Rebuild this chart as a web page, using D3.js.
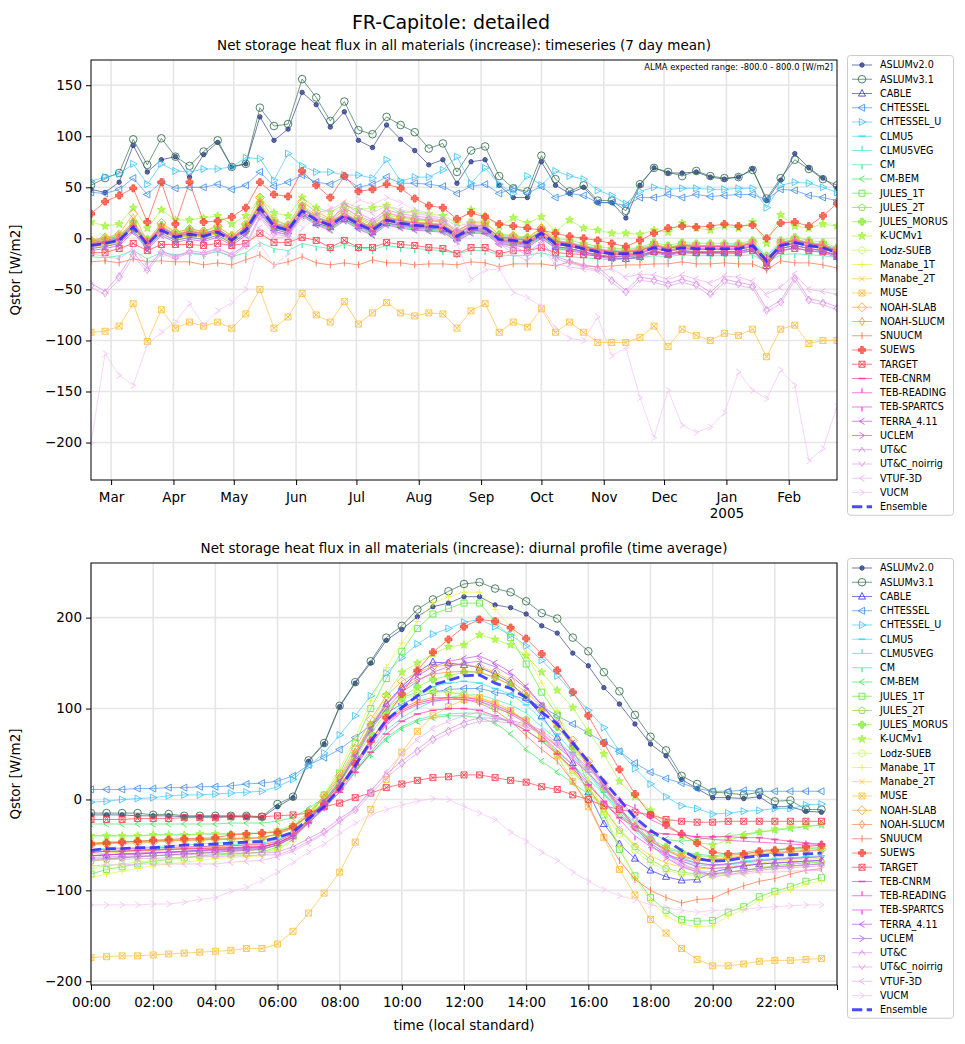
<!DOCTYPE html>
<html>
<head>
<meta charset="utf-8">
<script src="https://cdn.jsdelivr.net/npm/d3@7"></script>
<style>
body { margin: 0; background: #fff; }
svg { font-family: "DejaVu Sans", sans-serif; }
</style>
</head>
<body>
<script>
// model names, marker styles and colours, in plotting order
const modelNames = ["ASLUMv2.0","ASLUMv3.1","CABLE","CHTESSEL","CHTESSEL_U","CLMU5","CLMU5VEG","CM","CM-BEM",
  "JULES_1T","JULES_2T","JULES_MORUS","K-UCMv1","Lodz-SUEB","Manabe_1T","Manabe_2T","MUSE","NOAH-SLAB",
  "NOAH-SLUCM","SNUUCM","SUEWS","TARGET","TEB-CNRM","TEB-READING","TEB-SPARTCS","TERRA_4.11","UCLEM",
  "UT&C","UT&C_noirrig","VTUF-3D","VUCM","Ensemble"];
const markerTypes = ["dot","o","^","<",">","_","tickup","tickdown","caretleft","s","p","P","*","h","+","x","X","D",
  "d","|","P","X","_","tickup","tickdown","caretleft","caretright","caretup","caretdown","caretleft","caretright","none"];
const lineColors = ["#2d3d8a","#2f6e4a","#3a3aef","#3d8ef0","#3ec3f7","#35dcee","#3de8c8","#3ce89a","#3ee858",
  "#5aea38","#7fdd3a","#8aee3f","#a3f53c","#c4fa5a","#e8f53a","#ffc830","#ffbf3c","#ffa030","#ff8a3a","#ff6a3a",
  "#ff4a3a","#ff3a4a","#ff3aa0","#ff3ad0","#ee3aee","#c04aee","#b060e0","#d488ea","#e49aea","#efa8ef","#f5c0f5","#2a2aff"];

// timeseries: weekly points starting 2004-02-20 (7 day means)
const tsStart = new Date(2004, 1, 20);
const tsWeeks = 54;
const tsYTicks = [-200, -150, -100, -50, 0, 50, 100, 150];

const ts_ASLUMv2_0 = [48,45,55,91,65,77,80,60,82,94,70,73,119,96,107,143,131,109, 124,96,89,111,97,86,72,77,54,75,77,52,40,40,75,52,44,50, 35,35,20,52,69,64,64,65,60,58,60,68,37,57,83,69,59,49];
const ts_ASLUMv3_1 = [52,59,64,97,72,98,80,71,85,96,70,73,128,110,112,156,138,115, 134,106,102,119,111,104,88,93,65,86,90,61,49,46,81,58,46,52, 37,37,27,53,69,65,61,66,61,59,60,67,39,59,77,68,58,52];
const ts_CABLE = [-4,-2,1,13,-5,10,3,5,4,7,0,9,29,10,7,24,15,11, 19,12,6,15,13,11,10,9,0,8,7,-3,-4,-6,3,-8,-10,-13, -17,-19,-20,-18,-13,-16,-13,-14,-14,-13,-13,-10,-27,-10,-7,-10,-12,-18];
const ts_CHTESSEL = [45,44,48,59,43,55,49,50,50,53,48,52,65,51,55,62,55,53, 60,50,53,60,54,54,53,51,44,51,53,44,49,44,51,40,44,42, 35,35,32,40,40,43,40,43,41,42,43,43,38,48,47,42,40,37];
const ts_CHTESSEL_U = [56,60,63,73,53,73,66,65,68,68,70,79,78,57,83,71,65,65, 62,62,59,77,56,60,60,67,80,54,69,53,44,61,52,66,61,58, 47,42,34,46,50,48,49,49,48,48,49,49,30,52,55,54,50,45];
const ts_CLMU5 = [-3,0,2,14,-2,11,4,8,5,9,1,11,32,15,12,30,21,16, 24,17,11,20,17,15,14,13,4,12,12,2,1,-1,8,-2,-4,-7, -10,-12,-11,-10,-6,-9,-6,-7,-7,-7,-6,-4,-18,-4,-1,-4,-6,-10];
const ts_CLMU5VEG = [-6,-4,-1,12,-5,9,2,5,3,7,-1,9,31,13,9,28,19,14, 23,15,9,19,16,14,13,12,3,11,11,0,-1,-3,6,-4,-6,-9, -12,-14,-14,-13,-8,-11,-8,-9,-9,-9,-9,-6,-20,-6,-3,-6,-8,-13];
const ts_CM = [-18,-19,-17,-12,-20,-14,-16,-15,-16,-13,-18,-14,-4,-10,-12,-5,-8,-10, -6,-9,-11,-7,-9,-10,-11,-12,-15,-12,-12,-16,-17,-17,-14,-18,-18,-19, -20,-21,-20,-19,-17,-18,-16,-17,-17,-17,-17,-16,-24,-16,-15,-16,-17,-19];
const ts_CM_BEM = [-10,-8,-5,8,-10,5,-2,1,-1,3,-5,5,26,9,5,23,14,9, 18,10,4,14,11,9,8,7,-2,6,6,-5,-6,-8,1,-9,-11,-14, -16,-18,-18,-17,-12,-15,-12,-13,-13,-13,-13,-10,-25,-10,-7,-10,-12,-17];
const ts_JULES_1T = [-5,-3,0,13,-4,10,3,6,4,8,0,10,33,14,10,29,20,15, 24,16,10,20,17,15,14,13,4,12,12,1,0,-2,7,-3,-5,-8, -11,-13,-13,-12,-7,-10,-7,-8,-8,-8,-8,-5,-20,-5,-2,-5,-7,-12];
const ts_JULES_2T = [-7,-5,-2,10,-7,7,0,3,1,5,-3,7,28,11,7,25,17,12, 21,13,7,17,14,12,11,10,1,9,9,-2,-3,-5,4,-6,-8,-11, -14,-16,-16,-15,-10,-13,-10,-11,-11,-11,-11,-8,-23,-8,-5,-8,-10,-15];
const ts_JULES_MORUS = [-2,0,3,16,-1,13,6,9,7,11,3,13,35,17,13,32,23,18, 27,19,13,23,20,18,17,16,7,15,15,4,3,1,10,0,-2,-5, -8,-10,-10,-9,-4,-7,-4,-5,-5,-5,-5,-2,-17,-2,1,-2,-4,-9];
const ts_K_UCMv1 = [16,12,14,30,10,28,18,18,20,22,14,22,40,25,22,40,30,26, 33,28,30,32,25,26,24,22,15,28,22,12,20,15,21,7,18,10, 8,5,5,4,8,6,15,10,8,12,10,16,-5,23,12,10,14,12];
const ts_Lodz_SUEB = [-4,-1,1,13,-4,10,4,6,4,8,1,11,31,14,10,28,20,15, 23,16,10,20,17,15,14,13,4,12,11,1,0,-2,7,-3,-5,-8, -11,-13,-13,-12,-7,-10,-7,-8,-8,-8,-8,-5,-21,-5,-2,-5,-7,-12];
const ts_Manabe_1T = [-8,-6,-3,12,-7,9,2,5,3,7,-2,9,32,13,9,29,19,14, 23,15,9,19,16,14,13,12,3,11,11,0,-1,-3,6,-4,-6,-9, -12,-14,-14,-13,-8,-11,-8,-9,-9,-9,-9,-6,-21,-6,-3,-6,-8,-13];
const ts_Manabe_2T = [-9,-7,-4,10,-8,7,0,3,1,5,-4,7,30,11,7,27,17,12, 21,13,7,17,14,12,11,10,1,9,9,-2,-3,-5,4,-6,-8,-11, -14,-16,-16,-15,-10,-13,-10,-11,-11,-11,-11,-8,-23,-8,-5,-8,-10,-15];
const ts_MUSE = [-92,-91,-86,-64,-101,-70,-88,-82,-86,-82,-88,-74,-50,-88,-77,-54,-75,-82, -62,-84,-73,-63,-73,-76,-73,-74,-88,-71,-64,-92,-82,-87,-69,-92,-82,-92, -102,-102,-102,-97,-86,-106,-89,-95,-100,-93,-95,-89,-116,-89,-85,-103,-100,-100];
const ts_NOAH_SLAB = [-2,1,4,24,-3,15,6,9,7,12,2,14,40,18,13,36,26,19, 30,21,14,25,21,19,18,17,6,16,16,3,2,0,10,-2,-5,-8, -11,-13,-12,-11,-6,-9,-6,-7,-7,-7,-7,-4,-28,-4,-1,-4,-6,-11];
const ts_NOAH_SLUCM = [-3,-1,2,16,-4,12,4,7,5,9,0,11,34,15,11,31,21,16, 25,17,11,21,18,16,15,14,5,13,13,1,0,-2,7,-3,-6,-9, -12,-14,-13,-12,-7,-10,-7,-8,-8,-8,-8,-5,-25,-5,-2,-5,-7,-12];
const ts_SNUUCM = [-23,-22,-24,-20,-23,-22,-23,-23,-26,-24,-26,-21,-16,-26,-23,-18,-24,-26, -24,-26,-21,-24,-24,-26,-25,-25,-26,-23,-24,-28,-25,-25,-25,-27,-23,-27, -28,-27,-26,-26,-25,-25,-23,-25,-25,-24,-25,-25,-31,-22,-24,-24,-26,-29];
const ts_SUEWS = [24,36,42,49,16,55,14,55,16,17,21,30,55,43,41,66,52,40, 61,46,48,53,49,39,32,30,19,25,21,14,12,10,8,5,2,0, -2,-5,-8,-2,5,10,12,11,12,14,12,13,0,15,16,12,22,34];
const ts_TARGET = [-14,-14,-10,-5,-12,-6,-6,-6,-7,-5,-7,-5,5,-4,-4,1,-2,-9, -2,-9,-9,-4,-6,-7,-9,-10,-15,-9,-9,-15,-12,-12,-9,-14,-15,-16, -17,-18,-17,-16,-13,-15,-13,-14,-14,-14,-14,-12,-24,-12,-10,-12,-13,-16];
const ts_TEB_CNRM = [-6,-4,-1,12,-5,9,2,5,3,7,-1,9,28,12,8,26,17,12, 21,13,7,17,14,12,11,10,1,9,9,-2,-3,-5,4,-6,-8,-11, -14,-16,-16,-15,-10,-13,-10,-11,-11,-11,-11,-8,-23,-8,-5,-8,-10,-15];
const ts_TEB_READING = [-5,-3,0,14,-4,11,3,7,4,9,0,11,32,14,10,29,20,15, 24,16,10,20,17,15,14,13,4,12,12,1,0,-2,7,-3,-5,-8, -11,-13,-13,-12,-7,-10,-7,-8,-8,-8,-8,-5,-20,-5,-2,-5,-7,-12];
const ts_TEB_SPARTCS = [-7,-5,-2,11,-6,8,1,4,2,6,-2,8,29,12,8,26,18,13, 22,14,8,18,15,13,12,11,2,10,10,-1,-2,-4,5,-5,-7,-10, -13,-15,-15,-14,-9,-12,-9,-10,-10,-10,-10,-7,-22,-7,-4,-7,-9,-14];
const ts_TERRA_4_11 = [-12,-10,-7,6,-11,3,-4,-1,-3,1,-7,3,25,7,3,22,13,8, 17,9,3,13,10,8,7,6,-3,5,5,-6,-7,-9,0,-10,-12,-15, -18,-20,-20,-19,-14,-17,-14,-15,-15,-15,-15,-12,-27,-12,-9,-12,-14,-19];
const ts_UCLEM = [-10,-8,-5,8,-9,5,-2,1,-1,3,-5,5,27,9,5,24,15,10, 19,11,5,15,12,10,9,8,-1,7,7,-4,-5,-7,2,-8,-10,-13, -16,-18,-18,-17,-12,-15,-12,-13,-13,-13,-13,-10,-25,-10,-7,-10,-12,-17];
const ts_UTC = [-44,-52,-36,-14,-30,-12,-18,-12,-14,-10,-16,-6,22,6,4,28,20,16, 34,25,18,28,24,22,20,18,8,14,10,-4,-8,-14,-4,-18,-22,-26, -28,-40,-51,-38,-40,-44,-40,-44,-53,-40,-43,-46,-69,-61,-38,-59,-62,-67];
const ts_UTC_noirrig = [-48,-55,-40,-18,-32,-15,-20,-14,-16,-12,-18,-8,20,4,2,25,18,14, 30,22,16,25,22,20,18,16,6,12,8,-6,-10,-16,-6,-20,-24,-28, -31,-43,-54,-41,-43,-47,-43,-47,-56,-43,-46,-49,-72,-64,-41,-62,-65,-70];
const ts_VTUF_3D = [-15,-18,-20,-10,-25,-15,-18,-14,-15,-10,-15,-8,10,0,2,20,25,28, 35,30,25,32,28,25,22,20,12,15,10,-5,-15,-22,-10,-25,-28,-30, -32,-30,-38,-35,-36,-40,-36,-40,-44,-37,-38,-42,-55,-48,-35,-50,-52,-55];
const ts_VUCM = [-201,-113,-134,-144,-104,-92,-82,-64,-85,-71,-63,-50,-5,-27,-15,10,20,30, 25,38,33,40,35,28,25,15,-5,-40,-31,-30,-53,-58,-67,-88,-98,-100, -77,-115,-107,-156,-195,-149,-183,-190,-185,-171,-131,-149,-157,-129,-144,-218,-206,-165];
const ts_Ensemble = [-7,-5,-2,11,-6,8,1,4,2,6,-2,8,30,12,8,27,18,13, 22,14,8,18,15,13,12,11,2,10,10,-1,-2,-4,5,-5,-7,-10, -13,-15,-15,-14,-9,-12,-9,-10,-10,-10,-10,-7,-22,-7,-4,-7,-9,-14];

// diurnal profile: half-hourly, 00:00 .. 23:30
const dpSteps = 48;
const dpXTicks = [0, 2, 4, 6, 8, 10, 12, 14, 16, 18, 20, 22, 24];
const dpYTicks = [-200, -100, 0, 100, 200];

const dp_ASLUMv2_0 = [-17,-17,-17,-18,-18,-18,-19,-19,-19,-19,-19,-20, -8,2,42,61,102,128,150,175,187,201,212,216, 223,223,214,211,204,191,183,161,147,123,105,83, 61,48,22,12,2,2,1,3,-8,-8,-13,-14];
const dp_ASLUMv3_1 = [-15,-15,-15,-15,-17,-16,-18,-18,-18,-18,-18,-19, -5,3,43,62,103,129,152,178,191,209,220,229, 237,239,232,228,218,205,199,178,163,140,119,93, 69,54,26,17,8,7,5,8,-2,-1,-11,-11];
const dp_CABLE = [-62,-61,-60,-60,-59,-58,-57,-56,-55,-54,-53,-52, -48,-40,-22,-4,18,50,80,105,124,140,151,150, 148,145,138,128,112,92,68,40,8,-27,-49,-65, -78,-85,-89,-88,-80,-76,-73,-71,-70,-69,-68,-67];
const dp_CHTESSEL = [11,11,11,12,12,13,13,14,14,15,17,18, 20,26,38,46,55,68,82,95,105,113,118,121, 122,122,118,115,110,102,92,83,73,63,53,40, 30,23,18,12,9,9,10,9,9,9,9,9];
const dp_CHTESSEL_U = [-3,-2,0,1,2,4,5,5,6,7,8,9, 14,22,37,51,71,92,114,139,156,171,182,188, 195,198,190,181,169,153,136,117,98,79,53,34, 17,3,-7,-10,-16,-15,-13,-12,-10,-10,-6,-5];
const dp_CLMU5 = [-58,-57,-56,-55,-55,-54,-53,-52,-51,-50,-49,-48, -44,-38,-22,-8,14,40,66,88,103,115,124,128, 130,128,122,116,104,88,72,52,30,8,-14,-32, -46,-56,-64,-70,-72,-71,-68,-66,-65,-64,-63,-62];
const dp_CLMU5VEG = [-55,-54,-53,-53,-52,-51,-50,-49,-48,-47,-46,-45, -42,-37,-24,-10,10,32,55,76,90,100,108,112, 115,115,110,104,95,80,66,48,28,6,-16,-35, -50,-62,-68,-72,-73,-72,-70,-68,-66,-65,-64,-63];
const dp_CM = [-40,-40,-40,-40,-39,-39,-39,-38,-38,-38,-37,-37, -35,-30,-18,-5,12,30,50,68,80,88,92,94, 95,95,90,85,76,65,52,38,22,6,-10,-26, -45,-55,-58,-60,-62,-60,-58,-56,-55,-54,-54,-53];
const dp_CM_BEM = [-27,-27,-27,-27,-27,-27,-27,-27,-27,-26,-26,-26, -24,-20,-10,2,16,32,50,66,78,86,90,92, 92,90,84,72,55,42,30,18,6,-6,-18,-28, -38,-44,-46,-44,-42,-40,-38,-36,-34,-32,-30,-28];
const dp_JULES_1T = [-82,-77,-74,-71,-68,-66,-64,-62,-61,-60,-59,-58, -52,-40,-20,5,29,62,100,133,163,188,204,210, 216,216,196,178,149,118,93,58,16,-17,-55,-84, -108,-122,-132,-134,-133,-124,-118,-107,-101,-96,-90,-86];
const dp_JULES_2T = [-68,-66,-64,-63,-62,-61,-60,-59,-58,-57,-56,-55, -50,-40,-22,-2,22,50,80,100,112,118,120,118, 115,108,100,95,88,70,50,32,12,-10,-34,-52, -66,-76,-80,-82,-82,-80,-78,-75,-73,-71,-70,-69];
const dp_JULES_MORUS = [-48,-47,-46,-46,-45,-45,-44,-44,-43,-43,-42,-42, -38,-32,-18,-2,18,44,72,96,112,124,132,136, 140,140,134,126,114,98,80,58,36,12,-12,-30, -44,-52,-58,-62,-63,-62,-60,-58,-56,-55,-54,-53];
const dp_K_UCMv1 = [-40,-40,-40,-40,-39,-39,-39,-38,-38,-38,-38,-37, -34,-28,-14,2,22,50,82,115,140,150,160,168, 170,181,176,170,158,140,120,101,75,50,20,3, -12,-25,-40,-47,-50,-45,-40,-36,-33,-31,-29,-28];
const dp_Lodz_SUEB = [-75,-73,-71,-69,-67,-65,-64,-63,-62,-61,-60,-59, -54,-44,-26,-5,20,50,78,98,110,116,118,118, 116,112,104,96,84,68,50,30,10,-14,-38,-56, -70,-78,-82,-84,-84,-82,-80,-78,-76,-74,-72,-70];
const dp_Manabe_1T = [-86,-82,-79,-76,-73,-71,-69,-67,-65,-64,-63,-62, -56,-44,-22,6,33,68,108,145,172,196,216,223, 228,228,209,190,161,128,98,62,22,-14,-52,-86, -112,-128,-137,-140,-139,-128,-121,-111,-104,-99,-93,-90];
const dp_Manabe_2T = [-60,-59,-58,-57,-56,-55,-54,-53,-52,-51,-50,-49, -46,-38,-22,-5,15,40,66,86,98,106,110,112, 113,112,106,98,86,70,52,32,12,-10,-32,-50, -62,-70,-74,-76,-76,-74,-72,-70,-68,-67,-66,-65];
const dp_MUSE = [-174,-173,-172,-172,-171,-170,-169,-168,-167,-166,-164,-164, -159,-145,-125,-103,-80,-47,-11,22,52,75,92,102, 110,112,106,98,86,70,48,20,-8,-42,-77,-105, -132,-147,-164,-176,-183,-183,-181,-178,-177,-177,-176,-175];
const dp_NOAH_SLAB = [-50,-49,-48,-48,-47,-46,-45,-45,-44,-44,-43,-42, -38,-30,-14,4,26,56,88,114,130,140,146,148, 148,146,140,130,118,102,84,65,42,18,-8,-30, -45,-55,-62,-66,-66,-64,-62,-60,-58,-57,-56,-55];
const dp_NOAH_SLUCM = [-48,-47,-47,-46,-46,-45,-45,-44,-44,-43,-43,-42, -38,-31,-16,2,24,52,82,106,122,132,138,140, 141,140,134,126,114,98,80,60,38,15,-10,-30, -46,-56,-63,-67,-67,-65,-63,-61,-59,-58,-57,-56];
const dp_SNUUCM = [-58,-57,-57,-56,-56,-55,-55,-54,-54,-53,-53,-52, -48,-40,-24,-6,14,40,66,88,100,108,112,112, 110,106,98,86,70,55,42,20,-5,-41,-67,-88, -100,-108,-114,-110,-109,-101,-95,-90,-87,-82,-78,-76];
const dp_SUEWS = [-49,-48,-47,-46,-45,-44,-43,-43,-42,-39,-38,-37, -36,-30,-18,-5,12,39,64,90,116,142,162,176, 190,198,196,189,177,160,142,118,92,62,33,6, -17,-28,-38,-48,-58,-60,-60,-57,-56,-54,-52,-50];
const dp_TARGET = [-22,-22,-22,-21,-21,-21,-20,-20,-20,-19,-19,-19, -18,-17,-15,-8,-4,2,7,13,17,21,24,25, 27,27,24,21,19,14,11,5,0,-7,-11,-14, -17,-22,-24,-25,-25,-24,-24,-24,-24,-24,-24,-24];
const dp_TEB_CNRM = [-58,-57,-57,-56,-55,-55,-54,-54,-53,-53,-52,-52, -48,-40,-26,-10,8,30,52,72,86,94,98,100, 100,98,92,85,76,64,50,34,16,-2,-20,-30, -36,-38,-39,-41,-41,-41,-42,-42,-44,-46,-48,-49];
const dp_TEB_READING = [-55,-55,-54,-54,-53,-53,-52,-52,-51,-51,-50,-50, -46,-38,-22,-5,15,38,62,84,98,106,110,112, 112,110,104,96,86,72,58,44,29,11,-2,-10, -22,-30,-38,-42,-44,-45,-46,-47,-48,-49,-50,-50];
const dp_TEB_SPARTCS = [-62,-61,-60,-60,-59,-58,-58,-57,-56,-56,-55,-54, -50,-42,-26,-8,12,36,60,82,96,104,108,110, 110,108,102,94,84,70,54,38,18,-2,-22,-40, -52,-60,-66,-70,-72,-71,-69,-67,-66,-65,-64,-63];
const dp_TERRA_4_11 = [-62,-61,-60,-59,-58,-58,-57,-56,-55,-55,-54,-53, -48,-40,-22,-2,20,48,78,104,122,136,146,152, 155,158,150,140,124,104,84,62,38,14,-10,-32, -48,-60,-68,-74,-76,-75,-73,-71,-70,-69,-68,-67];
const dp_UCLEM = [-66,-65,-64,-63,-62,-61,-60,-59,-58,-57,-56,-55, -50,-42,-24,-4,18,46,76,100,118,130,140,146, 150,152,146,136,122,104,84,62,40,16,-8,-30, -50,-64,-74,-80,-82,-80,-78,-76,-74,-73,-72,-71];
const dp_UTC = [-64,-63,-63,-62,-62,-61,-61,-60,-60,-59,-59,-58, -58,-52,-43,-34,-21,-10,10,28,42,55,68,77, 85,90,89,87,83,76,62,50,35,20,0,-20, -40,-58,-70,-78,-83,-80,-78,-76,-74,-73,-72,-71];
const dp_UTC_noirrig = [-67,-66,-66,-65,-65,-64,-64,-63,-63,-62,-62,-61, -61,-55,-46,-37,-24,-13,6,24,38,51,64,73, 81,86,86,84,80,73,60,48,33,18,-2,-22, -42,-60,-72,-80,-85,-83,-80,-78,-76,-75,-74,-73];
const dp_VTUF_3D = [-73,-72,-72,-71,-71,-71,-71,-71,-71,-69,-68,-67, -63,-57,-48,-38,-25,-10,8,30,50,66,78,86, 92,96,92,86,80,72,60,46,30,12,-10,-30, -50,-64,-72,-78,-80,-82,-82,-80,-80,-79,-78,-78];
const dp_VUCM = [-116,-116,-116,-116,-115,-115,-113,-110,-108,-101,-97,-89, -80,-69,-58,-49,-37,-26,-17,-11,-6,-2,1,0, -8,-15,-22,-36,-46,-58,-67,-80,-90,-99,-106,-110, -116,-119,-122,-124,-122,-122,-121,-119,-118,-117,-116,-116];
const dp_Ensemble = [-56,-54,-54,-53,-53,-52,-50,-50,-49,-48,-47,-46, -42,-36,-21,-8,12,37,64,87,101,114,126,131, 136,137,128,122,112,96,83,62,42,20,0,-20, -34,-45,-56,-65,-68,-67,-64,-62,-61,-61,-60,-59];

const tsSeries = [ts_ASLUMv2_0, ts_ASLUMv3_1, ts_CABLE, ts_CHTESSEL, ts_CHTESSEL_U, ts_CLMU5, ts_CLMU5VEG, ts_CM, ts_CM_BEM,
  ts_JULES_1T, ts_JULES_2T, ts_JULES_MORUS, ts_K_UCMv1, ts_Lodz_SUEB, ts_Manabe_1T, ts_Manabe_2T, ts_MUSE, ts_NOAH_SLAB,
  ts_NOAH_SLUCM, ts_SNUUCM, ts_SUEWS, ts_TARGET, ts_TEB_CNRM, ts_TEB_READING, ts_TEB_SPARTCS, ts_TERRA_4_11, ts_UCLEM,
  ts_UTC, ts_UTC_noirrig, ts_VTUF_3D, ts_VUCM, ts_Ensemble];
const dpSeries = [dp_ASLUMv2_0, dp_ASLUMv3_1, dp_CABLE, dp_CHTESSEL, dp_CHTESSEL_U, dp_CLMU5, dp_CLMU5VEG, dp_CM, dp_CM_BEM,
  dp_JULES_1T, dp_JULES_2T, dp_JULES_MORUS, dp_K_UCMv1, dp_Lodz_SUEB, dp_Manabe_1T, dp_Manabe_2T, dp_MUSE, dp_NOAH_SLAB,
  dp_NOAH_SLUCM, dp_SNUUCM, dp_SUEWS, dp_TARGET, dp_TEB_CNRM, dp_TEB_READING, dp_TEB_SPARTCS, dp_TERRA_4_11, dp_UCLEM,
  dp_UTC, dp_UTC_noirrig, dp_VTUF_3D, dp_VUCM, dp_Ensemble];

const tsDates = d3.range(tsWeeks).map(i => d3.timeDay.offset(tsStart, 7 * i));
const dpHours = d3.range(dpSteps).map(i => i / 2);

let width = 965, height = 1044;
let margin = {left: 91, right: 837};

const svg = d3.select('body').append('svg')
    .attr('width', width)
    .attr('height', height);

// marker shapes (roughly matplotlib's)
function polygon(n, r, rot) {
    let pts = d3.range(n).map(k => {
        let a = rot + k * 2 * Math.PI / n;
        return [r * Math.cos(a), r * Math.sin(a)];
    });
    return 'M' + pts.map(p => p[0].toFixed(2) + ',' + p[1].toFixed(2)).join('L') + 'Z';
}
function star(r1, r2) {
    let pts = d3.range(10).map(k => {
        let a = -Math.PI / 2 + k * Math.PI / 5, r = k % 2 ? r2 : r1;
        return [r * Math.cos(a), r * Math.sin(a)];
    });
    return 'M' + pts.map(p => p[0].toFixed(2) + ',' + p[1].toFixed(2)).join('L') + 'Z';
}
const markerShapes = {
    'dot': {d: 'M2.2,0A2.2,2.2 0 1,1 -2.2,0A2.2,2.2 0 1,1 2.2,0Z', fill: true},
    'o': {d: 'M3.8,0A3.8,3.8 0 1,1 -3.8,0A3.8,3.8 0 1,1 3.8,0Z', fill: false},
    '^': {d: 'M0,-4L3.5,2.6L-3.5,2.6Z', fill: false},
    '<': {d: 'M-4,0L2.6,-3.5L2.6,3.5Z', fill: false},
    '>': {d: 'M4,0L-2.6,-3.5L-2.6,3.5Z', fill: false},
    '_': {d: 'M-3.5,0H3.5', fill: false, w: 1.6},
    'tickup': {d: 'M0,0V-4.5', fill: false, w: 1.4},
    'tickdown': {d: 'M0,0V4.5', fill: false, w: 1.4},
    'caretleft': {d: 'M2.5,-3.2L-2.5,0L2.5,3.2', fill: false},
    'caretright': {d: 'M-2.5,-3.2L2.5,0L-2.5,3.2', fill: false},
    'caretup': {d: 'M-3.2,2.5L0,-2.5L3.2,2.5', fill: false},
    'caretdown': {d: 'M-3.2,-2.5L0,2.5L3.2,-2.5', fill: false},
    's': {d: 'M-3,-3H3V3H-3Z', fill: false},
    'p': {d: polygon(5, 3.6, -Math.PI / 2), fill: false},
    'P': {d: 'M-1.3,-3.5H1.3V-1.3H3.5V1.3H1.3V3.5H-1.3V1.3H-3.5V-1.3H-1.3Z', fill: true},
    '*': {d: star(4.2, 1.8), fill: true},
    'h': {d: polygon(6, 3.6, -Math.PI / 2), fill: false},
    '+': {d: 'M-3.5,0H3.5M0,-3.5V3.5', fill: false},
    'x': {d: 'M-2.8,-2.8L2.8,2.8M-2.8,2.8L2.8,-2.8', fill: false},
    'X': {d: 'M-3,-3H3V3H-3ZM-3,-3L3,3M-3,3L3,-3', fill: false},
    'D': {d: 'M0,-4.5L4.5,0L0,4.5L-4.5,0Z', fill: false},
    'd': {d: 'M0,-4L2.6,0L0,4L-2.6,0Z', fill: false},
    '|': {d: 'M0,-3.5V3.5', fill: false}
};

function addMarkers(sel, k, pts) {
    let m = markerShapes[markerTypes[k]];
    if (!m) return;
    sel.selectAll(null)
        .data(pts)
        .enter()
        .append('path')
        .attr('transform', p => `translate(${p[0]},${p[1]})`)
        .attr('d', m.d)
        .attr('fill', m.fill ? lineColors[k] : 'none')
        .attr('fill-opacity', 0.75)
        .attr('stroke', lineColors[k])
        .attr('stroke-width', m.w || 1)
        .attr('stroke-opacity', 0.85);
}

function drawPanel(cfg) {
    const T = cfg.top, B = cfg.bottom, L = margin.left, R = margin.right;
    const x = cfg.x;
    const all = cfg.series.flat();
    const ext = d3.extent(all);
    const pad = (ext[1] - ext[0]) * 0.05;
    const y = d3.scaleLinear().domain([ext[0] - pad, ext[1] + pad]).range([B, T]);

    const g = svg.append('g');

    svg.append('clipPath').attr('id', 'clip' + cfg.id)
        .append('rect').attr('x', L).attr('y', T).attr('width', R - L).attr('height', B - T);

    // grid
    g.append('g').selectAll('line').data(cfg.xTicks).enter().append('line')
        .attr('x1', d => x(d)).attr('x2', d => x(d)).attr('y1', T).attr('y2', B)
        .attr('stroke', '#e6e6e6').attr('stroke-width', 1.6);
    g.append('g').selectAll('line').data(cfg.yTicks).enter().append('line')
        .attr('x1', L).attr('x2', R).attr('y1', d => y(d)).attr('y2', d => y(d))
        .attr('stroke', '#e6e6e6').attr('stroke-width', 1.6);

    const plot = g.append('g').attr('clip-path', `url(#clip${cfg.id})`);
    const line = d3.line();

    cfg.series.forEach((vals, k) => {
        let pts = vals.map((v, i) => [x(cfg.xs[i]), y(v)]);
        let s = plot.append('g');
        if (modelNames[k] === 'Ensemble') {
            s.append('path').attr('d', line(pts)).attr('fill', 'none')
                .attr('stroke', lineColors[k]).attr('stroke-width', 2.8)
                .attr('stroke-dasharray', '10.3,4.4').attr('stroke-opacity', 0.85);
        } else {
            s.append('path').attr('d', line(pts)).attr('fill', 'none')
                .attr('stroke', lineColors[k]).attr('stroke-width', 0.8).attr('stroke-opacity', 0.85);
            addMarkers(s, k, pts);
        }
    });

    // frame
    g.append('rect').attr('x', L).attr('y', T).attr('width', R - L).attr('height', B - T)
        .attr('fill', 'none').attr('stroke', 'black').attr('stroke-width', 1);

    // axes
    let ax = g.append('g').attr('transform', `translate(0,${B})`)
        .call(d3.axisBottom(x).tickValues(cfg.xTicks).tickSize(5).tickPadding(7).tickFormat(cfg.xFormat));
    let ay = g.append('g').attr('transform', `translate(${L},0)`)
        .call(d3.axisLeft(y).tickValues(cfg.yTicks).tickSize(5).tickPadding(4));
    [ax, ay].forEach(a => {
        a.select('.domain').remove();
        a.selectAll('text').style('font-size', '13.5px').attr('fill', 'black').style('font-family', '"DejaVu Sans", sans-serif');
        a.selectAll('line').attr('stroke', 'black');
    });
    if (cfg.after) cfg.after(ax);

    // titles
    svg.append('text').attr('x', (L + R) / 2).attr('y', T - 10).attr('text-anchor', 'middle')
        .style('font-size', '13.5px').text(cfg.title);
    svg.append('text').attr('transform', `translate(20,${(T + B) / 2}) rotate(-90)`)
        .attr('text-anchor', 'middle').style('font-size', '13.5px').text('Qstor [W/m2]');

    // legend
    const lx = 847, ly = T - 5, step = 14.25;
    const lg = svg.append('g');
    lg.append('rect').attr('x', lx + 0.5).attr('y', ly + 0.5).attr('width', 106).attr('height', 31 * step + 18)
        .attr('rx', 3).attr('fill', 'white').attr('stroke', '#cccccc');
    modelNames.forEach((name, k) => {
        let cy = ly + 10 + k * step;
        let e = lg.append('g');
        if (name === 'Ensemble') {
            e.append('line').attr('x1', 852).attr('x2', 872).attr('y1', cy).attr('y2', cy)
                .attr('stroke', lineColors[k]).attr('stroke-width', 2.8)
                .attr('stroke-dasharray', '10.3,4.4').attr('stroke-opacity', 0.85);
        } else {
            e.append('line').attr('x1', 852).attr('x2', 872).attr('y1', cy).attr('y2', cy)
                .attr('stroke', lineColors[k]).attr('stroke-width', 0.8).attr('stroke-opacity', 0.85);
            addMarkers(e, k, [[862, cy]]);
        }
        e.append('text').attr('x', 880).attr('y', cy).attr('dy', '0.35em')
            .style('font-size', '9.6px').text(name);
    });
    return y;
}

// overall title
svg.append('text').attr('x', 451).attr('y', 29).attr('text-anchor', 'middle')
    .style('font-size', '19px').text('FR-Capitole: detailed');

// timeseries panel
let xTime = d3.scaleTime().domain([tsDates[0], tsDates[tsDates.length - 1]]).range([margin.left, margin.right]);
let monthTicks = d3.timeMonth.range(new Date(2004, 2, 1), new Date(2005, 2, 1));
drawPanel({
    id: 'ts', top: 60, bottom: 480, x: xTime, xs: tsDates, series: tsSeries,
    xTicks: monthTicks, yTicks: tsYTicks, xFormat: d3.timeFormat('%b'),
    title: 'Net storage heat flux in all materials (increase): timeseries (7 day mean)',
    after: ax => {
        ax.selectAll('.tick text').filter(d => d.getMonth() === 0)
            .append('tspan').attr('x', 0).attr('dy', '1.2em').text('2005');
    }
});
svg.append('text').attr('x', 833).attr('y', 70).attr('text-anchor', 'end')
    .style('font-size', '8.3px').text('ALMA expected range: -800.0 - 800.0 [W/m2]');

// diurnal panel
let xHour = d3.scaleLinear().domain([0, 24]).range([margin.left, margin.right]);
drawPanel({
    id: 'dp', top: 563, bottom: 985, x: xHour, xs: dpHours, series: dpSeries,
    xTicks: dpXTicks, yTicks: dpYTicks,
    xFormat: h => h === 24 ? '' : String(h).padStart(2, '0') + ':00',
    title: 'Net storage heat flux in all materials (increase): diurnal profile (time average)'
});
svg.append('text').attr('x', 464).attr('y', 1030).attr('text-anchor', 'middle')
    .style('font-size', '13.5px').text('time (local standard)');
</script>
